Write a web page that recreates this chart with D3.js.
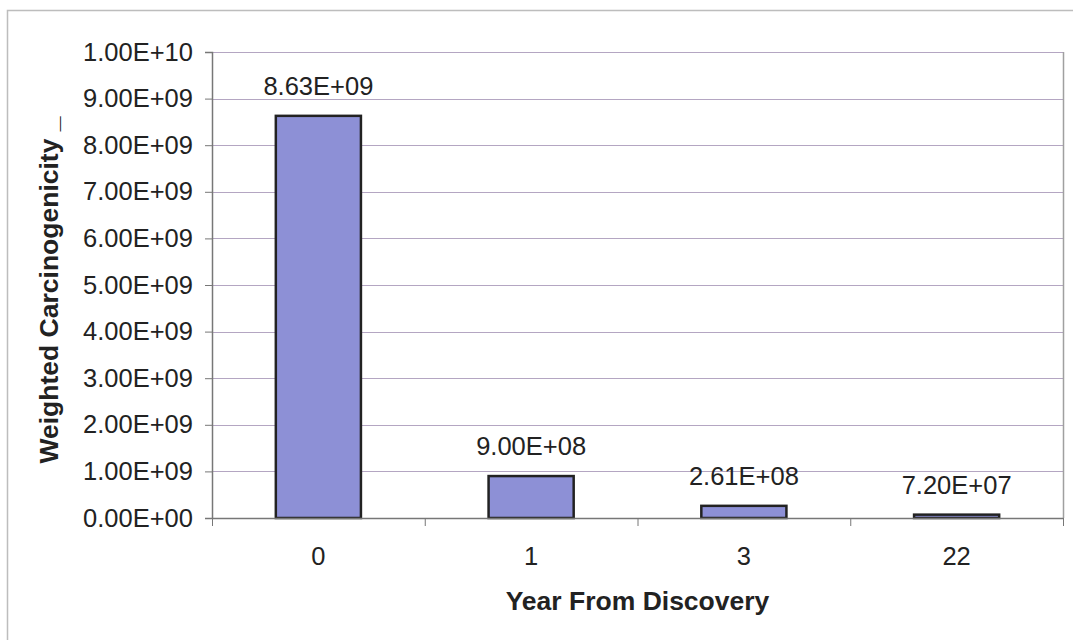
<!DOCTYPE html>
<html lang="en">
<head>
<meta charset="UTF-8">
<title>Weighted Carcinogenicity</title>
<style>
  body { margin: 0; background: #fff; }
  svg text { font-family: "Liberation Sans", Arial, sans-serif; fill: #222; }
</style>
</head>
<body>
<svg id="chart" width="1073" height="640"></svg>
<script src="https://d3js.org/d3.v7.min.js"></script>
<script>
// data
const years = ["0", "1", "3", "22"];
const values = [8.63e9, 9.00e8, 2.61e8, 7.20e7];
const valueLabels = ["8.63E+09", "9.00E+08", "2.61E+08", "7.20E+07"];
const yTicks = [0, 1e9, 2e9, 3e9, 4e9, 5e9, 6e9, 7e9, 8e9, 9e9, 1e10];
const yTickLabels = ["0.00E+00", "1.00E+09", "2.00E+09", "3.00E+09", "4.00E+09",
  "5.00E+09", "6.00E+09", "7.00E+09", "8.00E+09", "9.00E+09", "1.00E+10"];

const svg = d3.select("#chart");
const plotL = 212, plotR = 1063, plotT = 52, plotB = 518;
const fs = 25.5;

// outer chart frame (runs off the photo on right and bottom)
svg.append("rect")
  .attr("x", 7.5).attr("y", 10.5)
  .attr("width", 1200).attr("height", 800)
  .attr("fill", "none").attr("stroke", "#bdbdbd").attr("stroke-width", 1.5);

const x = d3.scaleBand().domain(years).range([plotL, plotR]).paddingInner(0).paddingOuter(0);
const y = d3.scaleLinear().domain([0, 1e10]).range([plotB, plotT]);

// gridlines
svg.append("g")
  .selectAll("line")
  .data(yTicks.slice(1))
  .enter().append("line")
  .attr("x1", plotL).attr("x2", plotR)
  .attr("y1", d => Math.round(y(d)) + 0.5).attr("y2", d => Math.round(y(d)) + 0.5)
  .attr("stroke", "#b4a6c2").attr("stroke-width", 1);

// plot area right border
svg.append("line")
  .attr("x1", plotR + 0.5).attr("x2", plotR + 0.5)
  .attr("y1", plotT).attr("y2", plotB)
  .attr("stroke", "#a0a0a0").attr("stroke-width", 1.5);

// bars
const barW = x.bandwidth() * 0.4;
svg.append("g")
  .selectAll("rect")
  .data(values)
  .enter().append("rect")
  .attr("x", (d, i) => x(years[i]) + (x.bandwidth() - barW) / 2)
  .attr("y", d => y(d))
  .attr("width", barW)
  .attr("height", d => plotB - y(d))
  .attr("fill", "#8d90d6")
  .attr("stroke", "#222")
  .attr("stroke-width", 2.5);

// data labels
svg.append("g")
  .selectAll("text")
  .data(values)
  .enter().append("text")
  .attr("x", (d, i) => x(years[i]) + x.bandwidth() / 2)
  .attr("y", d => y(d) - 21)
  .attr("text-anchor", "middle")
  .attr("font-size", fs)
  .text((d, i) => valueLabels[i]);

// y axis
const yAxis = svg.append("g")
  .attr("transform", "translate(" + plotL + ",0)")
  .call(d3.axisLeft(y).tickValues(yTicks).tickSize(7).tickPadding(12)
    .tickFormat((d, i) => yTickLabels[i]));
yAxis.select(".domain").attr("stroke", "#777").attr("stroke-width", 1.5);
yAxis.selectAll(".tick line").attr("stroke", "#777");
yAxis.selectAll(".tick text").attr("font-size", fs).attr("fill", "#222")
  .style("font-family", "'Liberation Sans', Arial, sans-serif");

// x axis
const xAxis = svg.append("g")
  .attr("transform", "translate(0," + plotB + ")")
  .call(d3.axisBottom(x).tickSize(0).tickPadding(29));
xAxis.select(".domain").attr("stroke", "#777").attr("stroke-width", 1.5);
xAxis.selectAll(".tick text").attr("font-size", fs).attr("fill", "#222")
  .style("font-family", "'Liberation Sans', Arial, sans-serif");

// category separator ticks
svg.append("g")
  .selectAll("line")
  .data(years.concat(["end"]))
  .enter().append("line")
  .attr("x1", (d, i) => plotL + i * x.bandwidth() + 0.5)
  .attr("x2", (d, i) => plotL + i * x.bandwidth() + 0.5)
  .attr("y1", plotB).attr("y2", plotB + 8)
  .attr("stroke", "#777");

// axis titles
svg.append("text")
  .attr("x", (plotL + plotR) / 2).attr("y", 610)
  .attr("text-anchor", "middle")
  .attr("font-size", 26.5).attr("font-weight", "bold")
  .text("Year From Discovery");

svg.append("text")
  .attr("transform", "translate(58,290) rotate(-90)")
  .attr("text-anchor", "middle")
  .attr("font-size", 26.5).attr("font-weight", "bold")
  .text("Weighted Carcinogenicity _");
</script>
</body>
</html>
